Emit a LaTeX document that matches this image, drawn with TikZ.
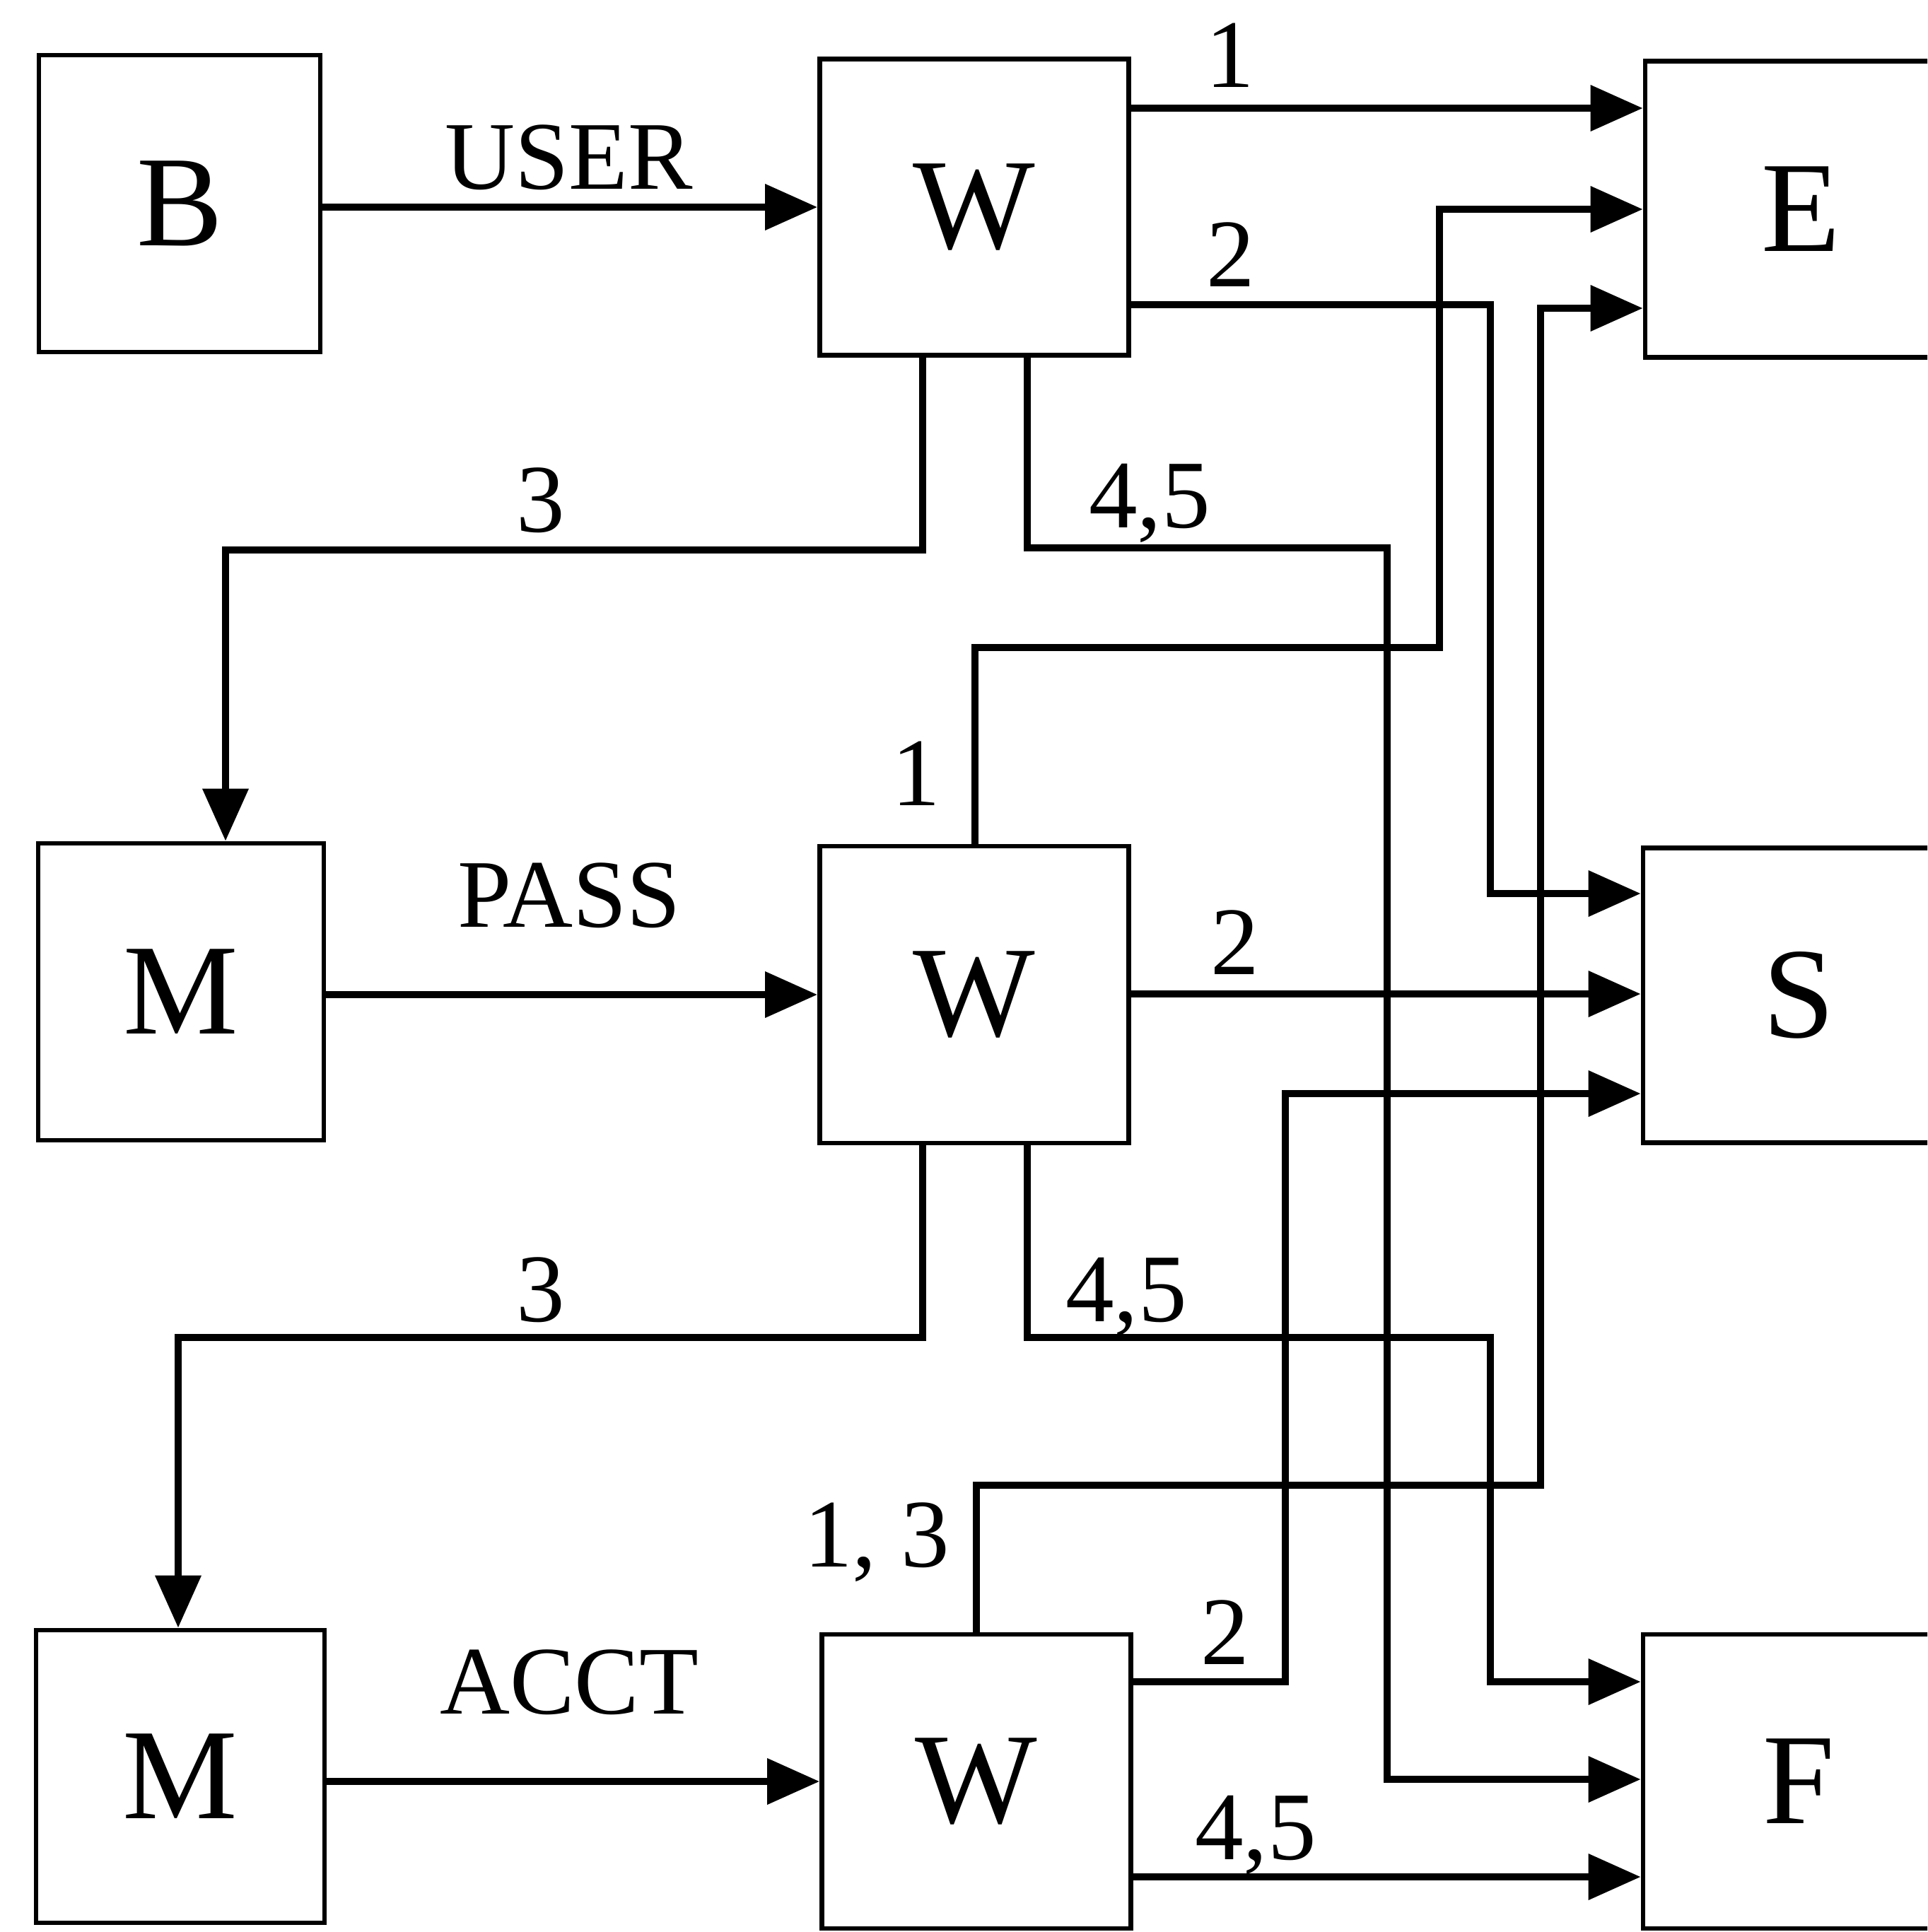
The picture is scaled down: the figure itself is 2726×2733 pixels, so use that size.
\documentclass[tikz,border=0pt]{standalone}
\usepackage{fontspec}
\setmainfont{Liberation Serif}
\usetikzlibrary{arrows.meta}
\begin{document}
\begin{tikzpicture}[x=0.01cm,y=-0.01cm,
  box/.style={draw,line width=1.9pt,rectangle,inner sep=0pt,font=\fontsize{52}{52}\selectfont},
  conn/.style={line width=2.7pt},
  arr/.style={conn,-{Triangle[length=21pt,width=18pt]}},
  lab/.style={font=\fontsize{39}{39}\selectfont,inner sep=0pt,anchor=base}]
\useasboundingbox (0,0) rectangle (2726,2733);
\clip (0,0) rectangle (2726,2733);
% boxes
\node[box,minimum width=3.98cm,minimum height=4.20cm] (B) at (254,288) {B};
\node[box,minimum width=4.37cm,minimum height=4.19cm] (W1) at (1378,293) {W};
\node[box,minimum width=4.40cm,minimum height=4.19cm] (E) at (2547,296) {E};
\node[box,minimum width=4.04cm,minimum height=4.20cm] (M1) at (256,1403) {M};
\node[box,minimum width=4.37cm,minimum height=4.20cm] (W2) at (1378,1407) {W};
\node[box,minimum width=4.40cm,minimum height=4.17cm] (S) at (2544,1408) {S};
\node[box,minimum width=4.08cm,minimum height=4.14cm] (M2) at (255,2513) {M};
\node[box,minimum width=4.37cm,minimum height=4.16cm] (W3) at (1381,2520) {W};
\node[box,minimum width=4.40cm,minimum height=4.16cm] (F) at (2544,2520) {F};
% inputs
\draw[arr] (B.east |- W1.west) -- (W1.west);
\draw[arr] (M1.east |- W2.west) -- (W2.west);
\draw[arr] (M2.east |- W3.west) -- (W3.west);
% from W1
\draw[arr] (W1.east |- 0,153) -- (E.west |- 0,153);
\draw[arr] (W1.east |- 0,431) -| (2108,1264) -- (S.west |- 0,1264);
\draw[arr] (W1.south -| 1305,0) |- (319,778) -- (M1.north -| 319,0);
\draw[arr] (W1.south -| 1453,0) |- (1962,775) |- (F.west |- 0,2517);
% from W2
\draw[arr] (W2.north -| 1379,0) |- (2036,916) |- (E.west |- 0,296);
\draw[arr] (W2.east |- 0,1406) -- (S.west |- 0,1406);
\draw[arr] (W2.south -| 1305,0) |- (252,1892) -- (M2.north -| 252,0);
\draw[arr] (W2.south -| 1453,0) |- (2108,1892) |- (F.west |- 0,2379);
% from W3
\draw[arr] (W3.north -| 1381,0) |- (2179,2101) |- (E.west |- 0,436);
\draw[arr] (W3.east |- 0,2379) -| (1818,1547) -- (S.west |- 0,1547);
\draw[arr] (W3.east |- 0,2655) -- (F.west |- 0,2655);
% labels
\node[lab] (lUser) at (805,267) {USER};
\node[lab] (lPass) at (805,1311) {PASS};
\node[lab] (lAcct) at (805,2424) {ACCT};
\node[lab] (lA1) at (1740,123) {1};
\node[lab] (lA2) at (1741,405) {2};
\node[lab] (lA3) at (765,752) {3};
\node[lab] (lA45) at (1626,746) {4,5};
\node[lab] (lB1) at (1296,1139) {1};
\node[lab] (lB2) at (1747,1378) {2};
\node[lab] (lB3) at (765,1869) {3};
\node[lab] (lB45) at (1593,1869) {4,5};
\node[lab] (lC13) at (1240,2216) {1, 3};
\node[lab] (lC2) at (1733,2354) {2};
\node[lab] (lC45) at (1776,2630) {4,5};
\end{tikzpicture}
\end{document}
